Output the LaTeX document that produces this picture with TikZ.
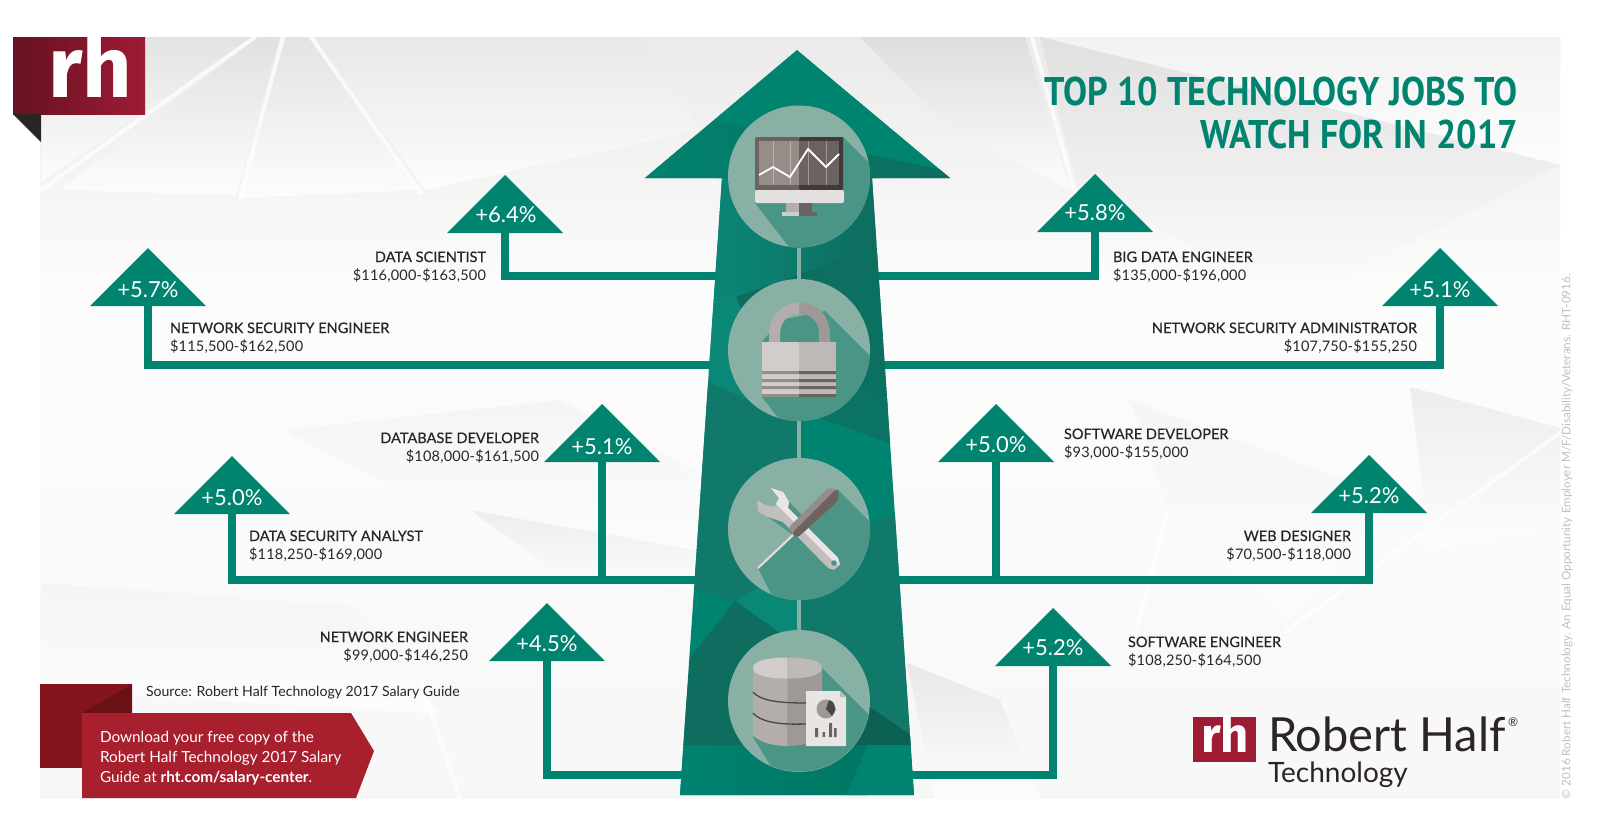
\documentclass[tikz,border=0pt]{standalone}
\usepackage{fontspec}
\setmainfont{Lato}
\newfontfamily\titlefont{PT Sans}[FakeStretch=0.9]
\newfontfamily\logofont{Fira Sans}
\newfontfamily\rolefont{Lato}[FakeBold=0.5, LetterSpace=0.2]
\newfontfamily\salaryfont{Lato}[LetterSpace=1.5]
\usetikzlibrary{positioning, shapes.geometric}

\definecolor{teal}{HTML}{00836F}
\definecolor{tealdark}{HTML}{0E6C5D}
\definecolor{teallight}{HTML}{0A8777}
\definecolor{tealmid}{HTML}{10796A}
\definecolor{ring}{HTML}{88B0A4}
\definecolor{cast}{HTML}{4A9585}
\definecolor{ink}{HTML}{2B2523}
\definecolor{wine}{HTML}{A81F2D}
\definecolor{winedark}{HTML}{84151C}
\definecolor{crimson}{HTML}{9E1B34}
\definecolor{silver}{HTML}{D0CDCB}
\definecolor{silverdark}{HTML}{BDB9B6}
\definecolor{steel}{HTML}{B3AEAC}
\definecolor{steeldark}{HTML}{9E9896}
\definecolor{umber}{HTML}{968C88}
\definecolor{umberdark}{HTML}{6C6360}

\newcommand{\arrowpath}{(797,50) -- (950,178) -- (872,178) -- (914,795) -- (680,795) -- (722,178) -- (645,178) -- cycle}
\newcommand{\role}[1]{{\rolefont #1}}

\begin{document}
\begin{tikzpicture}[
x=1pt, y=-1pt,
every node/.append style = {inner sep=0pt, outer sep=0pt},
   tag/.style = {isosceles triangle, isosceles triangle stretches, shape border rotate=90,
                 minimum width=116pt, minimum height=58pt, fill=teal, anchor=lower side},
   pct/.style = {text=white, font=\fontsize{22}{22}\selectfont},
   job/.style = {text=ink, font=\salaryfont\fontsize{14.5}{18.5}\selectfont},
  disc/.style = {circle, fill=ring, minimum size=142pt},
  link/.style = {line width=8pt, teal},
  stem/.style = {line width=4pt, ring},
  haze/.style = {top color=black!#1, bottom color=black!1, draw=none},
 haze/.default = 9,
 streak/.style = {line width=4pt, white, line cap=round, opacity=.7}
                    ]
\useasboundingbox (0,0) rectangle (1600,833);
% backdrop
\fill[white] (0,0) rectangle (1600,833);
\shade[top color=black!8, bottom color=black!1] (40,37) rectangle (1560,300);
\shade[top color=black!1, bottom color=black!3] (40,300) rectangle (1560,798);
\shade[haze=11] (145,37) -- (252,37) -- (41,182) -- (41,114) -- cycle;
\shade[haze=12] (258,37) -- (280,37) -- (236,195) -- (60,190) -- cycle;
\shade[haze=11] (286,37) -- (308,37) -- (418,190) -- (240,198) -- cycle;
\shade[haze=9] (316,37) -- (640,37) -- (700,130) -- (425,190) -- cycle;
\shade[haze=4] (285,430) -- (450,520) -- (695,565) -- (695,470) -- (560,400) -- cycle;
\shade[haze=7] (470,510) -- (695,550) -- (695,590) -- (560,575) -- cycle;
\shade[haze=4] (41,583) -- (357,607) -- (439,714) -- (41,690) -- cycle;
\shade[haze=13] (860,37) -- (1025,37) -- (1070,190) -- (950,130) -- cycle;
\shade[haze=5] (1040,37) -- (1560,165) -- (1560,37) -- cycle;
\shade[haze=12] (1040,37) -- (1078,190) -- (1300,300) -- (1560,165) -- cycle;
\shade[haze=7] (1410,387) -- (1560,428) -- (1560,530) -- (1430,550) -- cycle;
\shade[haze=4] (1130,400) -- (1400,500) -- (1290,620) -- (1170,515) -- cycle;
\shade[haze=9] (907,663) -- (1000,700) -- (1040,798) -- (935,798) -- cycle;
\draw[streak] (255,37) -- (41,190);
\draw[streak] (283,37) -- (240,198);
\draw[streak] (311,37) -- (421,193);
\draw[streak] (1032,37) -- (1075,193);
\draw[streak] (1560,433) -- (1285,632);
\draw[streak] (1167,515) -- (1137,627);
\draw[streak] (420,680) -- (460,798);
\draw[streak] (41,760) -- (140,730);
% logo top
\shade[left color=crimson!65!black, right color=crimson] (13,37) rectangle (145,114);
\fill[ink] (13,114) -- (41,114) -- (41,142) -- cycle;
\node (rhtop) [anchor=base west, text=white, font=\logofont\bfseries\fontsize{86}{86}\selectfont] at (48,97) {rh};
% title
\node (title) [anchor=east, align=right, text=teal, font=\titlefont\bfseries\fontsize{40}{42.5}\selectfont] at (1518,113)
      {TOP 10 TECHNOLOGY JOBS TO\\WATCH FOR IN 2017};
% nodes
\coordinate (j1) at (799,276);
\coordinate (j2) at (799,365);
\coordinate (j3) at (799,580);
\coordinate (j4) at (799,775);
\node (datasci)   [tag] at (505,233) {};
\node (netsec)    [tag] at (148,306) {};
\node (database)  [tag] at (602,462) {};
\node (datasec)   [tag] at (232,514) {};
\node (network)   [tag] at (547,661) {};
\node (bigdata)   [tag] at (1095,232) {};
\node (netadmin)  [tag] at (1440,306) {};
\node (softdev)   [tag] at (996,462) {};
\node (webdes)    [tag] at (1369,513) {};
\node (softeng)   [tag] at (1053,666) {};
\node (pdatasci)  [pct] at (506,215) {+6.4\%};
\node (pnetsec)   [pct] at (148,290) {+5.7\%};
\node (pdatabase) [pct] at (602,447) {+5.1\%};
\node (pdatasec)  [pct] at (232,498) {+5.0\%};
\node (pnetwork)  [pct] at (547,644) {+4.5\%};
\node (pbigdata)  [pct] at (1095,213) {+5.8\%};
\node (pnetadmin) [pct] at (1440,290) {+5.1\%};
\node (psoftdev)  [pct] at (996,445) {+5.0\%};
\node (pwebdes)   [pct] at (1369,496) {+5.2\%};
\node (psofteng)  [pct] at (1053,648) {+5.2\%};
\node (ldatasci)  [job, anchor=east, align=right] at (486,267) {\role{DATA SCIENTIST}\\\$116,000-\$163,500};
\node (lnetsec)   [job, anchor=west, align=left]  at (170,338) {\role{NETWORK SECURITY ENGINEER}\\\$115,500-\$162,500};
\node (ldatabase) [job, anchor=east, align=right] at (539,448) {\role{DATABASE DEVELOPER}\\\$108,000-\$161,500};
\node (ldatasec)  [job, anchor=west, align=left]  at (249,546) {\role{DATA SECURITY ANALYST}\\\$118,250-\$169,000};
\node (lnetwork)  [job, anchor=east, align=right] at (468,647) {\role{NETWORK ENGINEER}\\\$99,000-\$146,250};
\node (lbigdata)  [job, anchor=west, align=left]  at (1113,267) {\role{BIG DATA ENGINEER}\\\$135,000-\$196,000};
\node (lnetadmin) [job, anchor=east, align=right] at (1417,338) {\role{NETWORK SECURITY ADMINISTRATOR}\\\$107,750-\$155,250};
\node (lsoftdev)  [job, anchor=west, align=left]  at (1064,444) {\role{SOFTWARE DEVELOPER}\\\$93,000-\$155,000};
\node (lwebdes)   [job, anchor=east, align=right] at (1351,546) {\role{WEB DESIGNER}\\\$70,500-\$118,000};
\node (lsofteng)  [job, anchor=west, align=left]  at (1128,652) {\role{SOFTWARE ENGINEER}\\\$108,250-\$164,500};
% edges
\draw[link] (datasci.lower side) |- (j1);
\draw[link] (bigdata.lower side) |- (j1);
\draw[link] (netsec.lower side) |- (j2);
\draw[link] (netadmin.lower side) |- (j2);
\draw[link] (datasec.lower side) |- (j3);
\draw[link] (webdes.lower side) |- (j3);
\draw[link] (database.lower side) -- (database.lower side |- j3);
\draw[link] (softdev.lower side) -- (softdev.lower side |- j3);
\draw[link] (network.lower side) |- (j4);
\draw[link] (softeng.lower side) |- (j4);
% big arrow
\fill[teal] \arrowpath;
\begin{scope}
\clip \arrowpath;
\shade[left color=teal, right color=tealdark] (715,121) -- (950,172) -- (955,178) -- (640,178) -- cycle;
\shade[left color=teallight, right color=tealdark] (715,178) -- (880,178) -- (876,247) -- (736,297) -- (710,297) -- cycle;
\shade[left color=tealdark, right color=tealdark!80!teal] (876,247) -- (736,297) -- (787,422) -- (895,405) -- (885,300) -- cycle;
\fill[teallight] (700,297) -- (736,297) -- (787,422) -- (710,383) -- cycle;
\fill[tealmid] (710,383) -- (799,422) -- (799,458) -- (757,588) -- (735,601) -- (695,590) -- (690,430) -- cycle;
\fill[tealdark!70!teal] (860,386) -- (895,403) -- (895,445) -- (820,418) -- cycle;
\fill[tealmid] (799,458) -- (870,524) -- (900,511) -- (920,745) -- (799,745) -- cycle;
\fill[teallight] (735,601) -- (757,588) -- (799,590) -- (799,633) -- (780,633) -- cycle;
\fill[tealmid!90!black] (735,601) -- (780,633) -- (800,745) -- (683,745) -- (690,658) -- cycle;
\fill[tealdark!90!black] (870,707) -- (915,738) -- (915,745) -- (800,745) -- cycle;
\shade[left color=teal, right color=teal!90!black] (670,745) rectangle (868,800);
\fill[teal] (868,745) -- (920,745) -- (920,800) -- (844,800) -- cycle;
\end{scope}
% circles
\node (monitor)  [disc] at (799,176.5) {};
\node (lock)     [disc, below=31.5pt of monitor] {};
\node (tools)    [disc, below=37pt of lock] {};
\node (storage)  [disc, below=30pt of tools] {};
\draw[stem] (monitor) -- (lock);
\draw[stem] (lock) -- (tools);
\draw[stem] (tools) -- (storage);
% monitor icon
\begin{scope}
\clip (monitor) circle (71pt);
\fill[cast] (843,137) -- (920,214) -- (830,300) -- (755,203) -- cycle;
\end{scope}
\fill[umberdark, rounded corners=1pt] (755,137) rectangle (799,190);
\fill[ink!90, rounded corners=1pt] (799,137) rectangle (843,190);
\fill[umber] (759,141) rectangle (799,185);
\fill[umberdark] (799,141) rectangle (839,185);
\fill[silver!60!white, rounded corners=2pt] (755,190) rectangle (844,203);
\fill[steel] (786,203) rectangle (799,212);
\fill[umberdark] (799,203) rectangle (812,212);
\fill[silver] (782,212) rectangle (799,216);
\fill[umberdark] (799,212) rectangle (817,216);
\draw[white, opacity=.35, line width=.5pt] (773,141) -- (773,185) (790,141) -- (790,185) (808,141) -- (808,185) (826,141) -- (826,185);
\draw[white, line width=1.8pt] (759,175) -- (773,167) -- (790,177) -- (808,149) -- (826,167) -- (839,154);
% lock icon
\begin{scope}
\clip (lock) circle (71pt);
\fill[cast] (825,311) -- (885,371) -- (800,446) -- (762,397) -- (762,342) -- (780,320) -- cycle;
\end{scope}
\draw[steel, line width=11pt] (774.5,342) -- (774.5,335) .. controls (774.5,318) and (785,308.5) .. (799.5,308.5);
\draw[steeldark, line width=11pt] (824.5,342) -- (824.5,335) .. controls (824.5,318) and (814,308.5) .. (799.5,308.5);
\fill[silver] (762,342) rectangle (799,397);
\fill[silverdark] (799,342) rectangle (836,397);
\fill[umber] (762,371) rectangle (799,374) (762,379) rectangle (799,382) (762,386) rectangle (799,389) (762,394) rectangle (799,397);
\fill[umberdark] (799,371) rectangle (836,374) (799,379) rectangle (836,382) (799,386) rectangle (836,389) (799,394) rectangle (836,397);
% tools icon
\begin{scope}
\clip (tools) circle (71pt);
\fill[cast] (789,502) -- (810,523) -- (838,490) -- (900,552) -- (800,650) -- (758,568) -- (793,535) -- (768,517) -- cycle;
\end{scope}
\fill[steel!80!white, rounded corners=1pt] (771,488) -- (783,492) -- (789,502) -- (788,508) -- (838,558) -- (840,565) -- (834,570) -- (828,568) -- (783,522) -- (768,517) -- (758,512) -- (757,500) -- (765,505) -- (775,507) -- (779,498) -- cycle;
\fill[silver!50!white] (771,488) -- (783,492) -- (789,502) -- (788,508) -- (838,558) -- (840,565) -- (835,563) -- (776,504) -- (779,498) -- cycle;
\fill[cast] (834,563) circle (2.8pt);
\draw[silver!70!white, line width=2.2pt] (793,535) -- (758,568);
\fill[umber, rounded corners=3pt] (788,528) -- (829,487) -- (839,491) -- (838,501) -- (797,538) -- cycle;
\fill[umberdark, rounded corners=3pt] (792,533) -- (836,489) -- (839,491) -- (838,501) -- (797,538) -- cycle;
% storage icon
\begin{scope}
\clip (storage) circle (70.5pt);
\fill[cast] (822,668) -- (900,746) -- (810,830) -- (753,737) -- cycle;
\end{scope}
\fill[steel] (753,668) -- (753,735) .. controls (760,743) and (775,746) .. (787.5,746) -- (787.5,668) -- cycle;
\fill[steeldark] (822,668) -- (822,735) .. controls (815,743) and (800,746) .. (787.5,746) -- (787.5,668) -- cycle;
\fill[silver] (753,668) .. controls (753,660) and (770,657.5) .. (787.5,657.5) -- (787.5,678.5) .. controls (770,678.5) and (753,676) .. (753,668) -- cycle;
\fill[silverdark] (822,668) .. controls (822,660) and (805,657.5) .. (787.5,657.5) -- (787.5,678.5) .. controls (805,678.5) and (822,676) .. (822,668) -- cycle;
\draw[ink!85, line width=1.3pt] (753,692) .. controls (760,700) and (775,703) .. (806,703);
\draw[ink!85, line width=1.3pt] (753,713) .. controls (760,721) and (775,725) .. (806,724);
\fill[silver!50!white] (806,691) -- (840,691) -- (846,697) -- (846,746) -- (806,746) -- cycle;
\fill[silverdark] (840,691) -- (846,697) -- (840,697) -- cycle;
\fill[steeldark] (826,709) circle (9.5pt);
\fill[ink!85] (826,709) -- (829,700) -- (833,702) -- (835.5,709) -- (832,716) -- cycle;
\fill[umberdark] (815,728) rectangle (818,737) (822.5,732) rectangle (825,737) (829,723) rectangle (832,737) (834,728) rectangle (836.5,737);
% callout
\fill[winedark] (40,684) rectangle (132,768);
\fill[winedark!80!black] (132,684) -- (132,713) -- (82,713) -- cycle;
\fill[wine] (82,713) -- (351,713) -- (374,751) -- (356,798) -- (82,798) -- cycle;
\node (source) [anchor=west, text=ink, font=\fontsize{14.1}{14.1}\selectfont] at (146,693) {Source: Robert Half Technology 2017 Salary Guide};
\node (offer) [anchor=west, align=left, text=white, font=\fontsize{15.3}{19.7}\selectfont] at (100,758)
      {Download your free copy of the\\Robert Half Technology 2017 Salary\\Guide at \textbf{rht.com/salary-center}.};
% logo bottom
\fill[crimson] (1193,717) rectangle (1256,762);
\node (rhlow) [anchor=base west, text=white, font=\logofont\bfseries\fontsize{49}{49}\selectfont] at (1201,752) {rh};
\node (brand) [anchor=west, align=left, text=ink, font=\fontsize{28}{31}\selectfont] at (1268,752)
      {{\fontsize{47}{47}\selectfont Robert Half}\\Technology};
\node (reg) [anchor=center, text=ink, font=\fontsize{12}{12}\selectfont] at (1513,722) {®};
\node (legal) [rotate=90, anchor=west, text=black!25, font=\fontsize{11.7}{11.7}\selectfont] at (1567,799)
      {© 2016 Robert Half Technology. An Equal Opportunity Employer M/F/Disability/Veterans. RHT-0916.};
\end{tikzpicture}
\end{document}
